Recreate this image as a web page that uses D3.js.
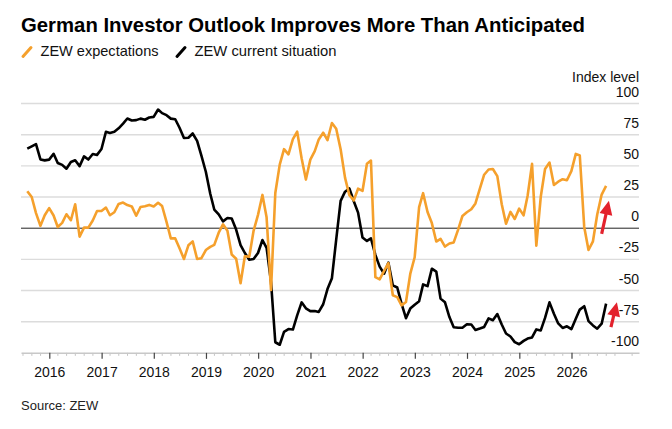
<!DOCTYPE html>
<html>
<head>
<meta charset="utf-8">
<script src="https://cdn.jsdelivr.net/npm/d3@7"></script>
<style>
  body { margin: 0; background: #fff; }
  svg text { font-family: "Liberation Sans", Arial, sans-serif; fill: #111; }
</style>
</head>
<body>
<svg id="chart" width="672" height="429"></svg>
<script>
// monthly readings, July 2015 .. August 2026
const firstMonth = [2015, 6];
const expectations = [
  29.7, 25.0, 12.1, 1.9, 10.4, 16.1,
  10.2, 1.0, 4.3, 11.2, 6.4, 19.2, -6.8, 0.5, 0.5, 6.2, 13.8, 13.8,
  16.6, 10.4, 12.8, 19.5, 20.6, 18.6, 17.5, 10.0, 17.0, 17.6, 18.7, 17.4,
  20.4, 17.8, 5.1, -8.2, -8.2, -16.1, -24.7, -13.7, -10.6, -24.7, -24.1, -17.5,
  -15.0, -13.4, -3.6, 3.1, -2.1, -21.1, -24.5, -44.1, -22.5, -22.8, -2.1, 10.7,
  26.7, 8.7, -49.5, 28.2, 51.0, 63.4, 59.3, 71.5, 77.4, 56.1, 39.0, 55.0,
  61.8, 71.2, 76.6, 70.7, 84.4, 79.8, 63.3, 40.4, 26.5, 22.3, 31.7, 29.9,
  51.7, 54.3, -39.3, -41.0, -34.3, -28.0, -53.8, -55.3, -61.9, -59.2, -36.7, -23.3,
  16.9, 28.1, 13.0, 4.1, -10.7, -8.5, -14.7, -12.3, -11.4, -1.1, 9.8, 12.8,
  15.2, 19.9, 31.7, 42.9, 47.1, 47.5, 41.8, 19.2, 3.6, 13.1, 7.4, 15.7,
  10.3, 26.0, 51.6, -14.0, 25.2, 47.5, 52.7, 34.7, 37.3, 39.3, 38.5, 45.8,
  59.6, 58.3, 1.0, -17.5, -10.5, 11.0, 27.0, 34.0
];
const currentSituation = [
  63.9, 65.7, 67.5, 55.2, 54.4, 55.0,
  59.7, 52.3, 50.8, 47.7, 53.1, 54.5, 49.8, 57.6, 55.1, 59.5, 58.8, 63.5,
  77.3, 76.4, 77.3, 80.1, 83.9, 88.0, 86.4, 86.7, 87.9, 87.0, 88.8, 89.3,
  95.2, 92.3, 90.7, 87.9, 87.4, 80.6, 72.4, 72.6, 76.0, 70.1, 58.2, 45.3,
  27.6, 15.0, 11.1, 5.5, 8.2, 7.8, -1.1, -13.5, -19.9, -25.3, -24.7, -19.9,
  -9.5, -15.7, -43.1, -91.5, -93.5, -83.1, -80.9, -81.3, -70.0, -59.5, -64.3, -66.5,
  -66.4, -67.2, -61.0, -48.8, -40.1, -9.1, 21.9, 29.3, 31.9, 21.6, 12.5, -7.4,
  -10.2, -8.1, -21.4, -30.8, -36.5, -27.6, -45.8, -47.6, -60.5, -72.2, -64.5, -61.4,
  -58.6, -45.1, -46.5, -32.5, -34.8, -56.5, -59.5, -71.3, -79.4, -79.9, -79.8, -77.1,
  -77.3, -81.7, -80.5, -79.2, -72.3, -73.8, -68.9, -77.3, -84.5, -86.9, -91.4, -93.1,
  -90.4, -88.5, -87.6, -81.2, -82.0, -72.0, -59.5, -68.6, -76.4, -80.0, -78.7, -81.0,
  -72.6, -65.3, -62.6, -74.5, -78.0, -80.6, -76.6, -60.5
];
const yTicks = [100, 75, 50, 25, 0, -25, -50, -75, -100];
const yearTicks = d3.range(2016, 2027);
const seriesNames = ["ZEW expectations", "ZEW current situation"];
const seriesColors = ["#f5a02c", "#000000"];
// red annotation arrows: [from year, from value, to year, to value]
const arrows = [
  [2026.578, -4.6, 2026.717, 22.0],
  [2026.756, -79.4, 2026.87, -59.4]
];

const svg = d3.select("#chart");
const plotLeft = 21, plotRight = 639, plotTop = 103.55, plotBottom = 352.85;

const monthEnd = i => new Date(firstMonth[0], firstMonth[1] + i + 1, 0);
const fracYear = f => {
  const yr = Math.floor(f);
  const a = new Date(yr, 0, 1), b = new Date(yr + 1, 0, 1);
  return new Date(+a + (f - yr) * (b - a));
};

// year ticks sit at 49.3 (2016) and 571.5 (2026)
const x = d3.scaleTime()
  .domain([new Date(2016, 0, 1), new Date(2026, 0, 1)])
  .range([49.3, 571.5]);
x.domain([x.invert(plotLeft), x.invert(plotRight)]).range([plotLeft, plotRight]);
const y = d3.scaleLinear().domain([-100, 100]).range([plotBottom, plotTop]);

// title
svg.append("text")
  .attr("x", 21).attr("y", 31.5)
  .attr("font-size", 19.5).attr("font-weight", "bold")
  .attr("textLength", 564).attr("lengthAdjust", "spacingAndGlyphs")
  .style("fill", "#000")
  .text("German Investor Outlook Improves More Than Anticipated");

// legend
const legendX = [23, 177];
const legendW = [118, 142];
seriesNames.forEach((name, i) => {
  const g = svg.append("g").attr("transform", `translate(${legendX[i]},0)`);
  g.append("line")
    .attr("x1", 0).attr("y1", 56.5).attr("x2", 8).attr("y2", 47.5)
    .attr("stroke", seriesColors[i]).attr("stroke-width", 3)
    .attr("stroke-linecap", "round");
  g.append("text")
    .attr("x", 17.5).attr("y", 55.5)
    .attr("font-size", 14.5)
    .attr("textLength", legendW[i]).attr("lengthAdjust", "spacingAndGlyphs")
    .text(name);
});

// unit label
svg.append("text")
  .attr("x", plotRight).attr("y", 81.5)
  .attr("text-anchor", "end").attr("font-size", 14)
  .text("Index level");

// grid
svg.append("g").selectAll("line")
  .data(yTicks.filter(v => v !== 0 && v !== -100))
  .join("line")
  .attr("x1", plotLeft).attr("x2", plotRight)
  .attr("y1", d => y(d)).attr("y2", d => y(d))
  .attr("stroke", "#dcdcdc").attr("stroke-width", 1.4);

svg.append("g").selectAll("text")
  .data(yTicks)
  .join("text")
  .attr("x", plotRight).attr("y", d => y(d) - 7)
  .attr("text-anchor", "end").attr("font-size", 14)
  .text(d => d);

// x axis
const xAxis = d3.axisBottom(x)
  .tickValues(yearTicks.map(yr => new Date(yr, 0, 1)))
  .tickSize(6).tickSizeOuter(0)
  .tickFormat(d3.timeFormat("%Y"));
const gx = svg.append("g").attr("transform", `translate(0,${plotBottom})`);
gx.append("g").selectAll("line")
  .data(d3.timeMonth.every(2).range(x.domain()[0], x.domain()[1])
    .filter(d => d.getMonth() !== 0))
  .join("line")
  .attr("x1", d => x(d)).attr("x2", d => x(d))
  .attr("y1", 0).attr("y2", 3)
  .attr("stroke", "#c4c4c4").attr("stroke-width", 1);
gx.call(xAxis);
gx.select(".domain").attr("stroke", "#c8c8c8").attr("stroke-width", 1.5);
gx.selectAll(".tick line").attr("stroke", "#444").attr("stroke-width", 1.2);
gx.selectAll(".tick text")
  .attr("y", 14).attr("dy", "0.71em")
  .attr("font-size", 14).attr("font-family", "Liberation Sans, Arial, sans-serif")
  .style("fill", "#111");

// zero line
svg.append("line")
  .attr("x1", plotLeft).attr("x2", plotRight)
  .attr("y1", y(0)).attr("y2", y(0))
  .attr("stroke", "#222").attr("stroke-width", 1);

// series
const line = d3.line()
  .x((d, i) => x(monthEnd(i)))
  .y(d => y(d));

svg.append("path")
  .datum(currentSituation)
  .attr("fill", "none")
  .attr("stroke", seriesColors[1]).attr("stroke-width", 2.6)
  .attr("stroke-linejoin", "round")
  .attr("d", line);

svg.append("path")
  .datum(expectations)
  .attr("fill", "none")
  .attr("stroke", seriesColors[0]).attr("stroke-width", 2.6)
  .attr("stroke-linejoin", "round")
  .attr("d", line);

// annotation arrows
arrows.forEach(a => {
  const x0 = x(fracYear(a[0])), y0 = y(a[1]);
  const x1 = x(fracYear(a[2])), y1 = y(a[3]);
  const len = Math.hypot(x1 - x0, y1 - y0);
  const ux = (x1 - x0) / len, uy = (y1 - y0) / len;
  const headL = 14, headW = 6.5;
  const bx = x1 - ux * headL, by = y1 - uy * headL;
  svg.append("line")
    .attr("x1", x0).attr("y1", y0).attr("x2", bx + ux * 2).attr("y2", by + uy * 2)
    .attr("stroke", "#e3222d").attr("stroke-width", 3.2);
  svg.append("path")
    .attr("d", `M${x1},${y1}L${bx - uy * headW},${by + ux * headW}L${bx + uy * headW},${by - ux * headW}Z`)
    .attr("fill", "#e3222d");
});

// source
svg.append("text")
  .attr("x", 21).attr("y", 410)
  .attr("font-size", 13)
  .style("fill", "#222")
  .text("Source: ZEW");
</script>
</body>
</html>
